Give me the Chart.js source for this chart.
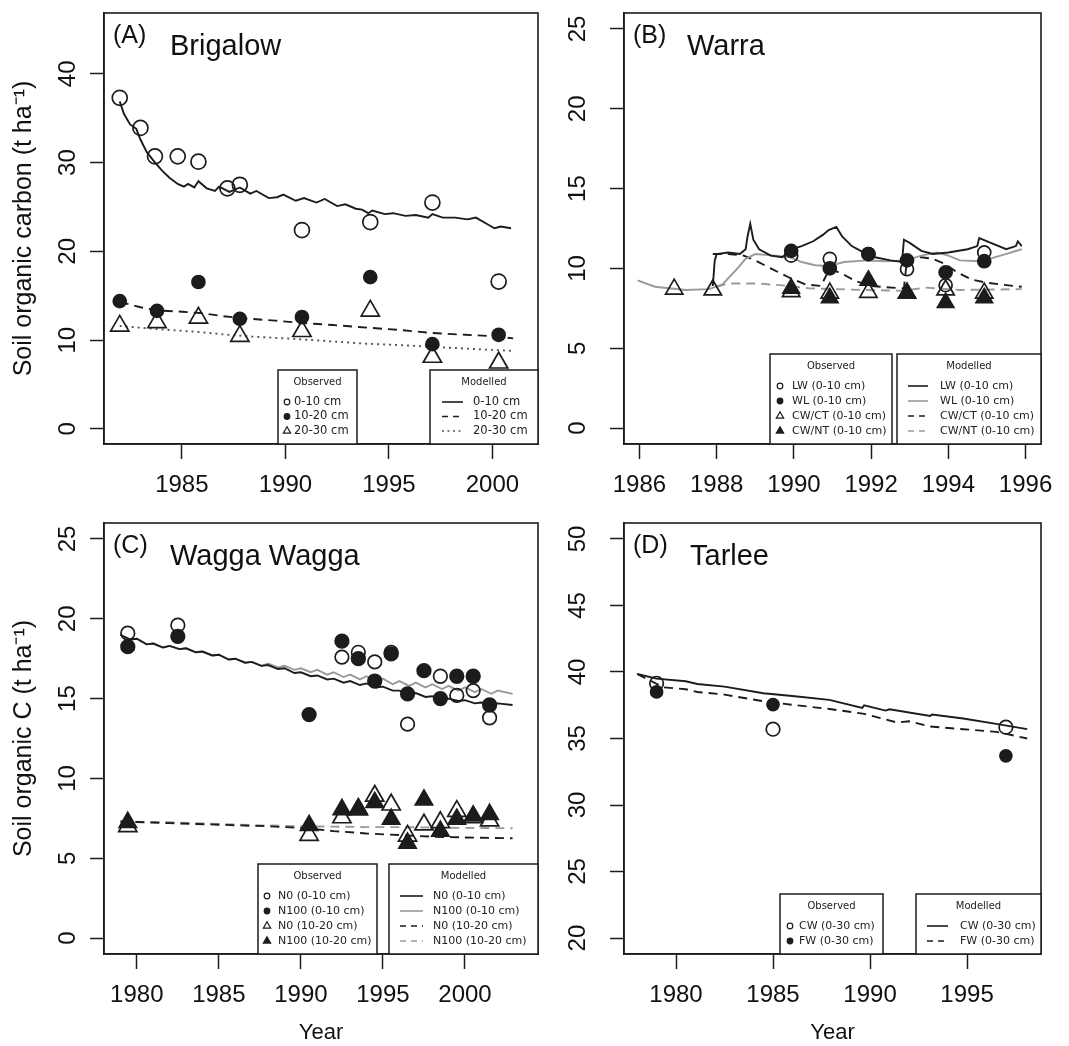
<!DOCTYPE html>
<html>
<head>
<meta charset="utf-8">
<script src="https://cdn.jsdelivr.net/npm/chart.js@4.4.0/dist/chart.umd.min.js"></script>
<style>
  html, body { margin: 0; padding: 0; background: #fff; overflow: hidden; }
  #wrap { position: relative; width: 1069px; height: 1046px; }
  canvas { position: absolute; }
</style>
</head>
<body>
<div id="wrap">
  <canvas id="cA" width="545" height="510" style="left:0;top:0"></canvas>
  <canvas id="cB" width="524" height="510" style="left:545px;top:0"></canvas>
  <canvas id="cC" width="545" height="536" style="left:0;top:510px"></canvas>
  <canvas id="cD" width="524" height="536" style="left:545px;top:510px"></canvas>
</div>
<script>
// ---- (A) Brigalow ----
const brigObs0Year = [1982.0, 1983.0, 1983.7, 1984.8, 1985.8, 1987.2, 1987.8, 1990.8, 1994.1, 1997.1, 2000.3];
const brigObs0 = [37.3, 33.9, 30.7, 30.7, 30.1, 27.1, 27.5, 22.4, 23.3, 25.5, 16.6];
const brigObsYear = [1982.0, 1983.8, 1985.8, 1987.8, 1990.8, 1994.1, 1997.1, 2000.3];
const brigObs10 = [14.4, 13.3, 16.55, 12.4, 12.6, 17.1, 9.55, 10.6];
const brigObs20 = [11.6, 12.0, 12.5, 10.45, 11.0, 13.3, 8.1, 7.45];

const brigMod0Year = [1982.0, 1982.2, 1982.5, 1982.8, 1983.0, 1983.3, 1983.6, 1984.0, 1984.4, 1984.8, 1985.1, 1985.3, 1985.6, 1985.8,
  1986.2, 1986.6, 1986.8, 1987.3, 1987.8, 1988.3, 1988.6, 1989.2, 1989.6, 1989.9, 1990.5, 1990.9, 1991.5, 1991.9, 1992.5, 1992.9,
  1993.4, 1993.7, 1994.0, 1994.2, 1994.8, 1995.2, 1995.8, 1996.3, 1996.9, 1997.1, 1997.6, 1998.2, 1998.8, 1999.2, 1999.8, 2000.1, 2000.4, 2000.9];
const brigMod0 = [36.9, 35.5, 34.3, 33.8, 32.6, 31.2, 30.3, 29.2, 28.3, 27.6, 27.3, 27.6, 27.2, 27.9,
  27.1, 26.8, 27.3, 26.7, 27.2, 26.5, 26.8, 26.0, 26.1, 26.4, 25.7, 26.0, 25.5, 25.9, 25.1, 25.3,
  24.8, 24.7, 24.3, 24.6, 24.2, 24.3, 24.0, 24.1, 23.8, 24.2, 23.8, 23.8, 23.6, 23.8, 23.0, 22.6, 22.8, 22.6];
const brigMod10Year = [1982.0, 1983.0, 1983.8, 1985.0, 1985.9, 1987.0, 1988.0, 1989.5, 1990.7, 1992.3, 1994.0, 1995.5, 1997.1, 1998.7, 2000.0, 2001.0];
const brigMod10 = [14.3, 13.7, 13.35, 13.2, 13.05, 12.7, 12.45, 12.2, 11.95, 11.7, 11.4, 11.15, 10.8, 10.6, 10.45, 10.2];
const brigMod20Year = [1982.0, 1983.5, 1985.9, 1987.0, 1988.4, 1990.7, 1992.3, 1993.9, 1995.5, 1997.1, 1999.5, 2001.0];
const brigMod20 = [11.6, 11.3, 10.9, 10.65, 10.4, 10.1, 9.85, 9.6, 9.45, 9.25, 8.95, 8.8];

// ---- (B) Warra ----
const warraObsYear = [1989.93, 1990.93, 1991.93, 1992.93, 1993.93, 1994.93];
const warraLW = [10.8, 10.6, 10.9, 9.95, 8.95, 11.0];
const warraWL = [11.1, 10.0, 10.9, 10.5, 9.75, 10.45];
const warraCTYear = [1986.9, 1987.9, 1989.93, 1990.93, 1991.93, 1992.93, 1993.93, 1994.93];
const warraCT = [8.7, 8.65, 8.55, 8.45, 8.5, 8.45, 8.65, 8.45];
const warraNT = [8.75, 8.15, 9.25, 8.45, 7.85, 8.15];

const lwModYear = [1987.9, 1987.95, 1988.0, 1988.3, 1988.6, 1988.75, 1988.8, 1988.87, 1988.95, 1989.1, 1989.4, 1989.7, 1989.93,
  1990.2, 1990.5, 1990.75, 1990.9, 1991.1, 1991.25, 1991.5, 1991.8, 1992.1, 1992.5, 1992.8, 1992.85, 1993.0, 1993.3, 1993.6,
  1994.0, 1994.5, 1994.75, 1994.8, 1995.1, 1995.5, 1995.75, 1995.8, 1995.9];
const lwMod = [8.9, 10.5, 10.9, 11.0, 10.9, 11.2, 12.0, 12.8, 11.8, 11.2, 10.8, 10.7, 11.2,
  11.4, 11.7, 12.1, 12.4, 12.6, 12.0, 11.4, 11.0, 10.7, 10.5, 10.4, 11.8, 11.6, 11.1, 10.9,
  11.0, 11.2, 11.4, 11.9, 11.6, 11.2, 11.4, 11.7, 11.4];
const wlModYear = [1985.95, 1986.4, 1987.2, 1987.8, 1988.15, 1988.5, 1988.75, 1989.0, 1989.5, 1989.9, 1990.2, 1990.55, 1990.9,
  1991.3, 1991.9, 1992.4, 1992.9, 1993.3, 1993.7, 1994.0, 1994.3, 1994.85, 1995.35, 1995.9];
const wlMod = [9.25, 8.85, 8.65, 8.7, 9.0, 9.9, 10.6, 10.9, 10.8, 10.7, 10.4, 10.2, 10.15,
  10.4, 10.5, 10.45, 10.5, 10.8, 11.0, 10.8, 10.5, 10.45, 10.8, 11.2];
const ctModYear = [1987.9, 1988.3, 1988.7, 1989.0, 1989.4, 1989.9, 1990.3, 1990.7, 1990.93, 1991.3, 1991.6, 1992.0, 1992.5,
  1992.85, 1992.93, 1993.3, 1993.6, 1993.9, 1994.2, 1994.6, 1995.0, 1995.5, 1995.9];
const ctMod = [10.9, 10.9, 10.8, 10.5, 10.0, 9.4, 9.0, 8.9, 10.0, 9.6, 9.2, 8.9, 8.8,
  8.75, 10.6, 10.7, 10.6, 10.3, 9.8, 9.3, 9.1, 8.95, 8.85];
const ntModYear = [1988.0, 1988.3, 1989.1, 1989.9, 1990.4, 1991.8, 1992.85, 1993.4, 1994.3, 1995.9];
const ntMod = [8.85, 9.05, 9.05, 8.9, 8.75, 8.65, 8.6, 8.8, 8.65, 8.7];

// ---- (C) Wagga Wagga ----
const waggaN0Year = [1979.45, 1982.5, 1992.5, 1993.5, 1994.5, 1995.5, 1996.5, 1998.5, 1999.5, 2000.5, 2001.5];
const waggaN0 = [19.1, 19.6, 17.6, 17.9, 17.3, 17.9, 13.4, 16.4, 15.2, 15.5, 13.8];
const waggaN100Year = [1979.45, 1982.5, 1990.5, 1992.5, 1993.5, 1994.5, 1995.5, 1996.5, 1997.5, 1998.5, 1999.5, 2000.5, 2001.5];
const waggaN100 = [18.25, 18.9, 14.0, 18.6, 17.5, 16.1, 17.8, 15.3, 16.75, 15.0, 16.4, 16.4, 14.6];
const waggaDeepYear = [1979.45, 1990.5, 1992.5, 1993.5, 1994.5, 1995.5, 1996.5, 1997.5, 1998.5, 1999.5, 2000.5, 2001.5];
const waggaN0Deep = [7.0, 6.45, 7.55, 8.05, 8.9, 8.35, 6.4, 7.1, 7.25, 7.95, 7.55, 7.35];
const waggaN100Deep = [7.25, 7.05, 8.05, 8.1, 8.5, 7.45, 5.95, 8.65, 6.7, 7.45, 7.65, 7.75];

const waggaModYear = [1979.0, 1979.6, 1980.0, 1980.6, 1981.0, 1981.6, 1982.0, 1982.6, 1983.0, 1983.6, 1984.0, 1984.6, 1985.0, 1985.6,
  1986.0, 1986.6, 1987.0, 1987.6, 1988.0, 1988.6, 1989.0, 1989.6, 1990.0, 1990.6, 1991.0, 1991.6, 1992.0, 1992.6, 1993.0, 1993.6,
  1994.0, 1994.6, 1995.0, 1995.6, 1996.0, 1996.6, 1997.0, 1997.6, 1998.0, 1998.6, 1999.0, 1999.6, 2000.0, 2000.6, 2001.0, 2001.6, 2002.0, 2002.9];
const n0Mod = [19.0, 18.7, 18.75, 18.4, 18.45, 18.2, 18.3, 18.1, 18.15, 17.9, 17.95, 17.7, 17.75, 17.45,
  17.5, 17.25, 17.3, 17.05, 17.1, 16.85, 16.9, 16.6, 16.65, 16.4, 16.45, 16.2, 16.25, 16.0, 16.1, 15.85,
  15.95, 15.7, 15.75, 15.5, 15.5, 15.3, 15.35, 15.1, 15.15, 14.95, 15.0, 14.85, 14.9, 14.7, 14.75, 14.65, 14.7, 14.6];
const n100Mod = [19.0, 18.7, 18.75, 18.4, 18.45, 18.2, 18.3, 18.1, 18.15, 17.9, 17.95, 17.7, 17.75, 17.45,
  17.5, 17.25, 17.3, 17.05, 17.2, 16.95, 17.05, 16.8, 16.9, 16.65, 16.8, 16.5, 16.65, 16.35, 16.5, 16.2,
  16.4, 16.05, 16.25, 15.9, 16.1, 15.8, 16.0, 15.7, 15.9, 15.6, 15.8, 15.5, 15.7, 15.4, 15.6, 15.3, 15.5, 15.3];
const deepModYear = [1979.0, 1982.0, 1985.0, 1988.0, 1990.0, 1992.0, 1994.0, 1996.0, 1998.0, 2000.0, 2002.9];
const n0DeepMod = [7.3, 7.2, 7.1, 7.0, 6.9, 6.7, 6.55, 6.45, 6.35, 6.3, 6.25];
const n100DeepMod = [7.3, 7.25, 7.15, 7.05, 7.0, 6.98, 6.95, 6.95, 6.92, 6.9, 6.88];

// ---- (D) Tarlee ----
const tarleeYear = [1979.0, 1985.0, 1997.0];
const tarleeCW = [39.15, 35.7, 35.85];
const tarleeFW = [38.5, 37.55, 33.7];
const cwModYear = [1978.0, 1979.0, 1980.5, 1981.1, 1982.5, 1984.5, 1986.0, 1987.9, 1989.6, 1989.7, 1990.8, 1991.0, 1993.1, 1993.2, 1994.8, 1996.5, 1998.1];
const cwMod = [39.85, 39.5, 39.3, 39.1, 38.9, 38.4, 38.2, 37.9, 37.3, 37.5, 37.1, 37.2, 36.7, 36.8, 36.5, 36.1, 35.7];
const fwModYear = [1978.0, 1979.35, 1980.5, 1981.1, 1982.5, 1984.5, 1986.2, 1988.0, 1989.7, 1991.4, 1992.0, 1993.1, 1994.8, 1996.5, 1997.0, 1998.1];
const fwMod = [39.85, 38.85, 38.7, 38.5, 38.3, 37.8, 37.5, 37.2, 36.85, 36.2, 36.3, 35.9, 35.7, 35.5, 35.35, 35.0];

// axis ticks
const brigXTicks = [1985, 1990, 1995, 2000];
const brigYTicks = [0, 10, 20, 30, 40];
const warraXTicks = [1986, 1988, 1990, 1992, 1994, 1996];
const warraYTicks = [0, 5, 10, 15, 20, 25];
const waggaXTicks = [1980, 1985, 1990, 1995, 2000];
const waggaYTicks = [0, 5, 10, 15, 20, 25];
const tarleeXTicks = [1980, 1985, 1990, 1995];
const tarleeYTicks = [20, 25, 30, 35, 40, 45, 50];

const FONT = '"Liberation Sans", Arial, Helvetica, sans-serif';
const LEG_FONT = '"DejaVu Sans", Verdana, sans-serif';
const INK = '#1c1c1c';
const GREY = '#9a9a9a';
const DASH = [9, 6];
const DOT = [2, 4];

function pts(xs, ys) {
  return xs.map((x, i) => ({ x: x, y: ys[i] }));
}

function observed(label, xs, ys, shape, filled, r) {
  return {
    label: label, group: 'obs', data: pts(xs, ys), showLine: false,
    pointStyle: shape, pointRadius: r, pointHoverRadius: r,
    pointBackgroundColor: filled ? INK : 'rgba(0,0,0,0)',
    pointBorderColor: INK, pointBorderWidth: 1.7
  };
}

function modelled(label, xs, ys, color, dash) {
  return {
    label: label, group: 'mod', data: pts(xs, ys), showLine: true,
    pointRadius: 0, pointHoverRadius: 0, borderColor: color, borderWidth: 1.9,
    borderDash: dash, fill: false, tension: 0
  };
}

// box around the plot region (R style)
const frame = {
  id: 'frame',
  afterDraw(chart) {
    const { ctx, chartArea: a } = chart;
    ctx.save();
    ctx.strokeStyle = INK;
    ctx.lineWidth = 1.6;
    ctx.strokeRect(a.left, a.top, a.right - a.left, a.bottom - a.top);
    ctx.restore();
  }
};

function symbol(ctx, shape, filled, x, y) {
  ctx.beginPath();
  if (shape === 'triangle') {
    const r = 4.2;
    ctx.moveTo(x, y - r);
    ctx.lineTo(x + r * 0.866, y + r * 0.5);
    ctx.lineTo(x - r * 0.866, y + r * 0.5);
    ctx.closePath();
  } else {
    ctx.arc(x, y, 2.8, 0, Math.PI * 2);
  }
  ctx.lineWidth = 1.2;
  ctx.strokeStyle = INK;
  if (filled) { ctx.fillStyle = INK; ctx.fill(); }
  ctx.stroke();
}

// the two boxed legends (Observed / Modelled) in the lower right
const boxLegend = {
  id: 'boxLegend',
  afterDraw(chart, args, o) {
    const { ctx, chartArea: a } = chart;
    const sets = chart.data.datasets;
    const groups = [['obs', 'Observed', o.obs], ['mod', 'Modelled', o.mod]];
    groups.forEach(([key, title, b]) => {
      const items = sets.filter(d => d.group === key);
      const lastRow = a.bottom - 13;
      const firstRow = lastRow - (items.length - 1) * o.step;
      const titleY = firstRow - 20;
      const top = titleY - 12;
      ctx.save();
      ctx.fillStyle = '#fff';
      ctx.fillRect(b.left, top, b.right - b.left, a.bottom - top);
      ctx.strokeStyle = INK;
      ctx.lineWidth = 1.5;
      ctx.strokeRect(b.left, top, b.right - b.left, a.bottom - top);
      ctx.fillStyle = '#222';
      ctx.textBaseline = 'middle';
      ctx.textAlign = 'center';
      ctx.font = '10px ' + LEG_FONT;
      ctx.fillText(title, (b.left + b.right) / 2, titleY);
      ctx.textAlign = 'left';
      ctx.font = o.fontSize + 'px ' + LEG_FONT;
      items.forEach((d, i) => {
        const y = firstRow + i * o.step;
        if (key === 'obs') {
          symbol(ctx, d.pointStyle, d.pointBackgroundColor === INK, b.symX, y);
        } else {
          ctx.save();
          ctx.strokeStyle = d.borderColor;
          ctx.lineWidth = 1.6;
          ctx.setLineDash(d.borderDash.length ? [6, 5] : []);
          if (d.borderDash === DOT) ctx.setLineDash([2, 3.5]);
          ctx.beginPath();
          ctx.moveTo(b.lineX1, y);
          ctx.lineTo(b.lineX2, y);
          ctx.stroke();
          ctx.restore();
        }
        ctx.fillStyle = '#222';
        ctx.fillText(d.label, b.textX, y);
      });
      ctx.restore();
    });
  }
};

// "(A)  Brigalow" style heading inside the plot
const panelText = {
  id: 'panelText',
  afterDraw(chart, args, o) {
    const ctx = chart.ctx;
    ctx.save();
    ctx.fillStyle = '#111';
    ctx.textBaseline = 'alphabetic';
    ctx.textAlign = 'left';
    ctx.font = '25px ' + FONT;
    ctx.fillText(o.tag, o.tagX, 43);
    ctx.font = '29px ' + FONT;
    ctx.fillText(o.name, o.nameX, 55);
    ctx.restore();
  }
};

function noPad(s) {
  s.paddingTop = 0; s.paddingBottom = 0; s.paddingLeft = 0; s.paddingRight = 0;
}

function makePanel(id, p) {
  const canvas = document.getElementById(id);
  const W = canvas.width, H = canvas.height;
  return new Chart(canvas, {
    type: 'scatter',
    data: { datasets: p.datasets },
    options: {
      responsive: false,
      animation: false,
      layout: { autoPadding: false, padding: { top: 13, right: W - p.right, left: 0, bottom: 0 } },
      plugins: {
        legend: { display: false },
        tooltip: { enabled: false },
        boxLegend: p.legend,
        panelText: p.text
      },
      scales: {
        x: {
          type: 'linear', min: p.xMin, max: p.xMax,
          afterBuildTicks: s => { s.ticks = p.xTicks.map(v => ({ value: v })); },
          afterFit: s => { s.height = H - 444; noPad(s); },
          grid: { drawOnChartArea: false, drawTicks: true, tickLength: 15, tickColor: INK, tickWidth: 1.5, color: INK },
          border: { display: true, color: INK, width: 1.5 },
          ticks: { font: { family: FONT, size: 24 }, color: '#111', padding: 12, maxRotation: 0, autoSkip: false,
            callback: v => String(v) },
          title: { display: !!p.xTitle, text: p.xTitle || '', color: '#111',
            font: { family: FONT, size: 22 }, padding: { top: 0, bottom: 0 } }
        },
        y: {
          type: 'linear', min: p.yMin, max: p.yMax,
          afterBuildTicks: s => { s.ticks = p.yTicks.map(v => ({ value: v })); },
          afterFit: s => { s.width = p.left; noPad(s); },
          grid: { drawOnChartArea: false, drawTicks: true, tickLength: 14, tickColor: INK, tickWidth: 1.5, color: INK },
          border: { display: true, color: INK, width: 1.5 },
          ticks: { font: { family: FONT, size: 24 }, color: '#111', padding: p.yPad, minRotation: 90, maxRotation: 90,
            crossAlign: 'center', autoSkip: false, callback: v => String(v) },
          title: { display: !!p.yTitle, text: p.yTitle || '', color: '#111',
            font: { family: FONT, size: 25 }, padding: { top: 9, bottom: 0 } }
        }
      }
    },
    plugins: [frame, boxLegend, panelText]
  });
}

makePanel('cA', {
  left: 104, right: 538, xMin: 1981.24, xMax: 2002.2, yMin: -1.7, yMax: 46.85,
  xTicks: brigXTicks, yTicks: brigYTicks, yPad: 8,
  yTitle: 'Soil organic carbon (t ha\u207B\u00B9)',
  text: { tag: '(A)', tagX: 113, name: 'Brigalow', nameX: 170 },
  legend: { step: 14.5, fontSize: 11.5,
    obs: { left: 278, right: 357, symX: 287, textX: 294 },
    mod: { left: 430, right: 538, lineX1: 442, lineX2: 463, textX: 473 } },
  datasets: [
    observed('0-10 cm', brigObs0Year, brigObs0, 'circle', false, 7.5),
    observed('10-20 cm', brigObsYear, brigObs10, 'circle', true, 6.5),
    observed('20-30 cm', brigObsYear, brigObs20, 'triangle', false, 10.5),
    modelled('0-10 cm', brigMod0Year, brigMod0, INK, []),
    modelled('10-20 cm', brigMod10Year, brigMod10, INK, DASH),
    modelled('20-30 cm', brigMod20Year, brigMod20, '#555', DOT)
  ]
});

makePanel('cB', {
  left: 79, right: 496, xMin: 1985.6, xMax: 1996.4, yMin: -1, yMax: 26,
  xTicks: warraXTicks, yTicks: warraYTicks, yPad: 18,
  text: { tag: '(B)', tagX: 88, name: 'Warra', nameX: 142 },
  legend: { step: 15, fontSize: 11,
    obs: { left: 225, right: 347, symX: 235, textX: 247 },
    mod: { left: 352, right: 496, lineX1: 363, lineX2: 383, textX: 395 } },
  datasets: [
    observed('LW (0-10 cm)', warraObsYear, warraLW, 'circle', false, 6.5),
    observed('WL (0-10 cm)', warraObsYear, warraWL, 'circle', true, 6.5),
    observed('CW/CT (0-10 cm)', warraCTYear, warraCT, 'triangle', false, 10),
    observed('CW/NT (0-10 cm)', warraObsYear, warraNT, 'triangle', true, 9.5),
    modelled('LW (0-10 cm)', lwModYear, lwMod, INK, []),
    modelled('WL (0-10 cm)', wlModYear, wlMod, GREY, []),
    modelled('CW/CT (0-10 cm)', ctModYear, ctMod, INK, DASH),
    modelled('CW/NT (0-10 cm)', ntModYear, ntMod, GREY, DASH)
  ]
});

makePanel('cC', {
  left: 104, right: 538, xMin: 1978.0, xMax: 2004.45, yMin: -1, yMax: 26,
  xTicks: waggaXTicks, yTicks: waggaYTicks, yPad: 8,
  yTitle: 'Soil organic C (t ha\u207B\u00B9)', xTitle: 'Year',
  text: { tag: '(C)', tagX: 113, name: 'Wagga Wagga', nameX: 170 },
  legend: { step: 15, fontSize: 11,
    obs: { left: 258, right: 377, symX: 267, textX: 278 },
    mod: { left: 389, right: 538, lineX1: 400, lineX2: 423, textX: 433 } },
  datasets: [
    observed('N0 (0-10 cm)', waggaN0Year, waggaN0, 'circle', false, 6.8),
    observed('N100 (0-10 cm)', waggaN100Year, waggaN100, 'circle', true, 6.8),
    observed('N0 (10-20 cm)', waggaDeepYear, waggaN0Deep, 'triangle', false, 10.5),
    observed('N100 (10-20 cm)', waggaDeepYear, waggaN100Deep, 'triangle', true, 10),
    modelled('N0 (0-10 cm)', waggaModYear, n0Mod, INK, []),
    modelled('N100 (0-10 cm)', waggaModYear, n100Mod, GREY, []),
    modelled('N0 (10-20 cm)', deepModYear, n0DeepMod, INK, DASH),
    modelled('N100 (10-20 cm)', deepModYear, n100DeepMod, GREY, DASH)
  ]
});

makePanel('cD', {
  left: 79, right: 496, xMin: 1977.32, xMax: 1998.81, yMin: 18.8, yMax: 51.2,
  xTicks: tarleeXTicks, yTicks: tarleeYTicks, yPad: 18, xTitle: 'Year',
  text: { tag: '(D)', tagX: 88, name: 'Tarlee', nameX: 145 },
  legend: { step: 15, fontSize: 11,
    obs: { left: 235, right: 338, symX: 245, textX: 254 },
    mod: { left: 371, right: 496, lineX1: 382, lineX2: 403, textX: 415 } },
  datasets: [
    observed('CW (0-30 cm)', tarleeYear, tarleeCW, 'circle', false, 6.8),
    observed('FW (0-30 cm)', tarleeYear, tarleeFW, 'circle', true, 6),
    modelled('CW (0-30 cm)', cwModYear, cwMod, INK, []),
    modelled('FW (0-30 cm)', fwModYear, fwMod, INK, DASH)
  ]
});
</script>
</body>
</html>
